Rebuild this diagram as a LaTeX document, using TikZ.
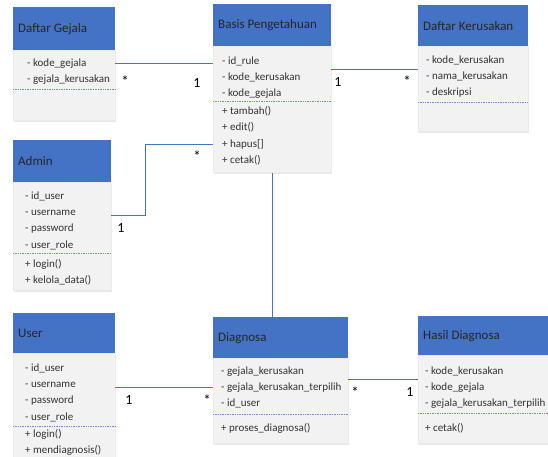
\documentclass[tikz,border=0pt]{standalone}
\usepackage{fontspec}
\setmainfont{Carlito}
\usepackage{xcolor}
\usetikzlibrary{positioning,shadows}
\definecolor{hdrblue}{RGB}{68,114,196}
\definecolor{bodygray}{RGB}{242,242,242}
\definecolor{txtgray}{RGB}{50,50,50}

\begin{document}
\begin{tikzpicture}[x=1pt,y=1pt]
\tikzstyle{every node}+=[inner sep=0pt]
\tikzstyle{head}=[fill=hdrblue, anchor=north west, inner xsep=5pt, align=flush left, text=black!85, font=\fontsize{13}{15}\selectfont]
\tikzstyle{body}=[fill=bodygray, draw=black!8, anchor=north west, drop shadow={opacity=0.18, shadow xshift=1.2pt, shadow yshift=-1.2pt}]
\tikzstyle{attr}=[anchor=north west, align=flush left, text=txtgray, font=\fontsize{11}{16.3}\selectfont]
\tikzstyle{sep}=[hdrblue!80, densely dotted, line width=0.7pt]
\tikzstyle{link}=[hdrblue, line width=1.4pt]
\tikzstyle{one}=[font=\fontsize{14}{14}\selectfont]
\tikzstyle{many}=[font=\fontsize{15}{15}\selectfont]
\useasboundingbox (0,0) rectangle (548,-456);
\clip (0,0) rectangle (548,-456);
% Daftar Gejala
\node[head, text width=92, minimum height=43] (gejala) at (13,-7) {Daftar Gejala};
\node[body, minimum width=102, minimum height=70] (gejala_b) at (gejala.south west) {};
\node[attr] (gejala_a) at ([xshift=14,yshift=-8]gejala_b.north west) {- kode\_gejala\\- gejala\_kerusakan};
\draw[sep] ([yshift=-39]gejala_b.north west) -- ([yshift=-39]gejala_b.north east);
% Basis Pengetahuan
\node[head, text width=108, minimum height=42] (basis) at (213,-4) {Basis Pengetahuan};
\node[body, minimum width=118, minimum height=126] (basis_b) at (basis.south west) {};
\node[attr] (basis_a) at ([xshift=9,yshift=-10]basis_b.north west) {- id\_rule\\- kode\_kerusakan\\- kode\_gejala};
\draw[sep] ([yshift=-55]basis_b.north west) -- ([yshift=-55]basis_b.north east);
\node[attr] (basis_m) at ([xshift=9,yshift=-60]basis_b.north west) {+ tambah()\\+ edit()\\+ hapus[]\\+ cetak()};
% Daftar Kerusakan
\node[head, text width=100, minimum height=41] (kerusakan) at (418,-5) {Daftar Kerusakan};
\node[body, minimum width=110, minimum height=85] (kerusakan_b) at (kerusakan.south west) {};
\node[attr] (kerusakan_a) at ([xshift=8,yshift=-9]kerusakan_b.north west) {- kode\_kerusakan\\- nama\_kerusakan\\- deskripsi};
\draw[sep] ([yshift=-56]kerusakan_b.north west) -- ([yshift=-56]kerusakan_b.north east);
% Admin
\node[head, text width=88, minimum height=42] (admin) at (13,-140) {Admin};
\node[body, minimum width=98, minimum height=108] (admin_b) at (admin.south west) {};
\node[attr] (admin_a) at ([xshift=12,yshift=-9]admin_b.north west) {- id\_user\\- username\\- password\\- user\_role};
\draw[sep] ([yshift=-71]admin_b.north west) -- ([yshift=-71]admin_b.north east);
\node[attr] (admin_m) at ([xshift=12,yshift=-77]admin_b.north west) {+ login()\\+ kelola\_data()};
% User
\node[head, text width=92, minimum height=40] (user) at (13,-313) {User};
\node[body, minimum width=102, minimum height=110] (user_b) at (user.south west) {};
\node[attr] (user_a) at ([xshift=12,yshift=-10]user_b.north west) {- id\_user\\- username\\- password\\- user\_role};
\draw[sep] ([yshift=-73]user_b.north west) -- ([yshift=-73]user_b.north east);
\node[attr] (user_m) at ([xshift=12,yshift=-76]user_b.north west) {+ login()\\+ mendiagnosis()};
% Diagnosa
\node[head, text width=125, minimum height=41] (diagnosa) at (213,-317) {Diagnosa};
\node[body, minimum width=135, minimum height=85] (diagnosa_b) at (diagnosa.south west) {};
\node[attr] (diagnosa_a) at ([xshift=8,yshift=-8]diagnosa_b.north west) {- gejala\_kerusakan\\- gejala\_kerusakan\_terpilih\\- id\_user};
\draw[sep] ([yshift=-56]diagnosa_b.north west) -- ([yshift=-56]diagnosa_b.north east);
\node[attr] (diagnosa_m) at ([xshift=8,yshift=-65]diagnosa_b.north west) {+ proses\_diagnosa()};
% Hasil Diagnosa
\node[head, text width=120, minimum height=39] (hasil) at (418,-316) {Hasil Diagnosa};
\node[body, minimum width=130, minimum height=88] (hasil_b) at (hasil.south west) {};
\node[attr] (hasil_a) at ([xshift=7,yshift=-11]hasil_b.north west) {- kode\_kerusakan\\- kode\_gejala\\- gejala\_kerusakan\_terpilih};
\draw[sep] ([yshift=-58]hasil_b.north west) -- ([yshift=-58]hasil_b.north east);
\node[attr] (hasil_m) at ([xshift=7,yshift=-68]hasil_b.north west) {+ cetak()};
% relasi
\draw[link] ([yshift=-13]gejala_b.north east) -- ([yshift=-17]basis_b.north west);
\draw[link] ([yshift=-23]basis_b.north east) -- ([yshift=-23]kerusakan_b.north west);
\draw[link] ([yshift=-33]admin_b.north east) -- ++(34,0) |- ([yshift=-98]basis_b.north west);
\draw[link] (basis_b.south) -- (basis_b.south |- diagnosa.north);
\draw[link] ([yshift=-34]user_b.north east) -- ([yshift=-29]diagnosa_b.north west);
\draw[link] ([yshift=-21]diagnosa_b.north east) -- ([yshift=-24]hasil_b.north west);
% multiplicity
\node[many] (m_gejala) at (125,-81) {*};
\node[one] (o_gejala) at (197,-83) {1};
\node[one] (o_kerusakan) at (338,-82) {1};
\node[many] (m_kerusakan) at (407,-81) {*};
\node[many] (m_admin) at (197,-156) {*};
\node[one] (o_admin) at (121,-228) {1};
\node[one] (o_user) at (129,-400) {1};
\node[many] (m_user) at (207,-400) {*};
\node[many] (m_hasil) at (355,-392) {*};
\node[one] (o_hasil) at (410,-392) {1};
\end{tikzpicture}
\end{document}
